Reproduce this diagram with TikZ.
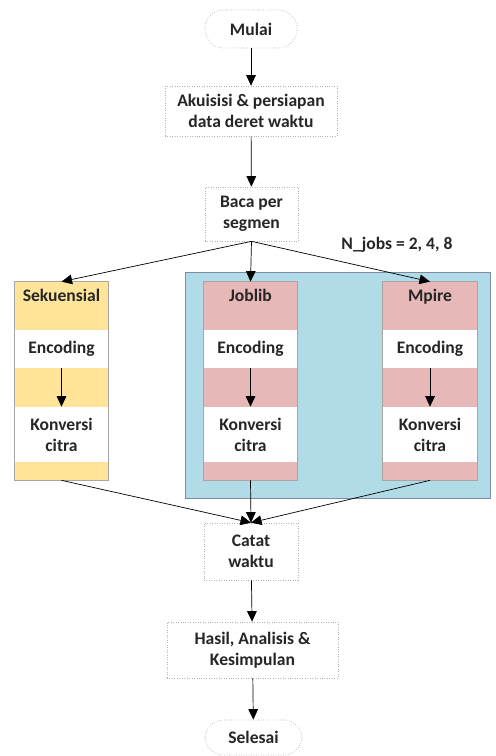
\documentclass[tikz,border=0pt]{standalone}
\usepackage{fontspec}
\setmainfont{Carlito}
\usetikzlibrary{arrows.meta}
\definecolor{seqfill}{HTML}{FFE49A}
\definecolor{parfill}{HTML}{E6B9B8}
\definecolor{poolfill}{HTML}{B1DCE7}
\definecolor{poolline}{HTML}{7D8CA3}

\begin{document}
\begin{tikzpicture}[x=0.02cm,y=-0.02cm,>={Triangle[width=5.5pt,length=6pt]},
    font=\bfseries\fontsize{10}{12}\selectfont,text=black!85,
    box/.style={draw=gray!60,densely dotted,fill=white,align=center,inner sep=0pt},
    term/.style={box,rounded corners=10.5pt},
    band/.style={inner sep=0pt,minimum width=1.88cm,align=center},
    head/.style={band,inner ysep=4pt,text height=7pt,text depth=12.2pt,minimum height=0.96cm}]
  \useasboundingbox (0,0) rectangle (495,756);
  % start, preparation, reading
  \node[term,minimum width=1.84cm,minimum height=0.76cm] (mulai) at (251,29) {Mulai};
  \node[box,minimum width=3.44cm,minimum height=1cm] (akuisisi) at (251,111) {Akuisisi \& persiapan\\data deret waktu};
  \node[box,minimum width=1.86cm,minimum height=1.08cm] (baca) at (251.5,214) {Baca per\\segmen};
  \draw[->] (mulai) -- (akuisisi);
  \draw[->] (akuisisi) -- (baca);
  % parallel pool
  \node[fill=poolfill,draw=poolline,minimum width=6.1cm,minimum height=4.52cm,inner sep=0pt] (pool) at (337.5,385) {};
  \node (njobs) at (397,245) {N\_jobs = 2, 4, 8};
  % three columns
  \foreach \n/\x/\c/\l in {seq/61.5/seqfill/Sekuensial, joblib/250.5/parfill/Joblib, mpire/430/parfill/Mpire}{
    \node[head,fill=\c] (\n head) at (\x,306) {\l};
    \node[band,fill=white,minimum height=0.76cm] (\n enc) at (\x,349) {Encoding};
    \node[band,fill=\c,minimum height=0.78cm] (\n mid) at (\x,387.5) {};
    \node[band,fill=white,minimum height=1.1cm] (\n konv) at (\x,434.5) {Konversi\\citra};
    \node[band,fill=\c,minimum height=0.36cm] (\n foot) at (\x,471) {};
    \draw[gray!70] (\n head.north west) rectangle (\n foot.south east);
    \draw[->] (\n enc) -- (\n konv);
    \draw[->] (baca.south) -- (\n head.north);
  }
  % timing and results
  \node[box,minimum width=1.88cm,minimum height=1.14cm] (catat) at (251,551.5) {Catat\\waktu};
  \node[box,minimum width=3.42cm,minimum height=1.12cm] (hasil) at (252.5,650) {Hasil, Analisis \&\\Kesimpulan};
  \node[term,minimum width=1.94cm,minimum height=0.7cm] (selesai) at (253.5,737.5) {Selesai};
  \draw[->] (seqfoot.south) -- (catat.north);
  \draw[->] (joblibfoot.south) -- (catat.north);
  \draw[->] (mpirefoot.south) -- (catat.north);
  \draw[->] (catat) -- (hasil);
  \draw[->] (hasil) -- (selesai);
\end{tikzpicture}
\end{document}
